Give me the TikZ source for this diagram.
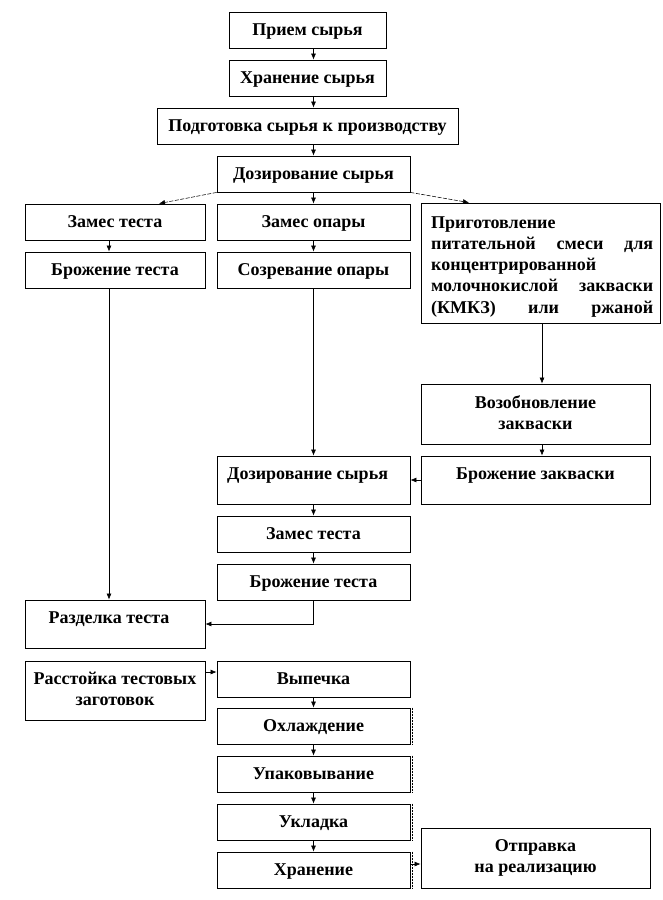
\documentclass[tikz,border=0pt]{standalone}
\usepackage{fontspec}
\setmainfont{Liberation Serif}
\usetikzlibrary{arrows.meta}
\newcommand\bx[6]{\node[box, text height=15pt, minimum width={#4-#2}, minimum height={#5-#3}] (#1) at ({(#2+#4)/2},{(#3+#5)/2}) {#6};}
\newcommand\bxm[6]{\node[box, minimum width={#4-#2}, minimum height={#5-#3}] (#1) at ({(#2+#4)/2},{(#3+#5)/2}) {#6};}
\begin{document}
\begin{tikzpicture}[x=1pt,y=-1pt,
  lbl/.style={font=\fontsize{18}{21.3}\selectfont\bfseries},
  box/.style={draw, line width=0.85pt, inner sep=0pt, lbl, align=center, text depth=3.5pt},
  txt/.style={inner sep=0pt, lbl},
  arr/.style={line width=0.6pt, -{Latex[length=6pt,width=5pt]}},
  diag/.style={arr, line width=0.55pt, dash pattern=on 4pt off 1.5pt},
  edge/.style={line width=0.5pt, densely dotted}
]
\useasboundingbox (0,0) rectangle (663,900);
% boxes
\bx{p1}{229}{12}{386}{48}{Прием сырья}
\bx{p2}{229}{60}{386}{96}{Хранение сырья}
\bx{p3}{157}{108}{458}{144}{Подготовка сырья к производству}
\bx{d1}{217}{156}{410}{192}{Дозирование сырья}
\bx{zt}{25}{204}{205}{240}{Замес теста}
\bx{zo}{217}{204}{410}{240}{Замес опары}
\bxm{pr}{421}{203}{660}{323}{}
\bx{bt}{25}{252}{205}{288}{Брожение теста}
\bx{so}{217}{252}{410}{288}{Созревание опары}
\bxm{vz}{421}{384}{650}{444}{Возобновление\\закваски}
\bxm{bz}{421}{456}{650}{504}{}
\bxm{d2}{217}{456}{410}{504}{}
\bx{zt2}{217}{516}{410}{552}{Замес теста}
\bx{bt2}{217}{564}{410}{600}{Брожение теста}
\bxm{rz}{25}{600}{205}{648}{}
\bxm{rs}{25}{661}{205}{720}{Расстойка тестовых\\заготовок}
\bx{vy}{217}{661}{410}{697}{Выпечка}
\bx{oh}{217}{708}{410}{744}{Охлаждение}
\bx{up}{217}{756}{410}{792}{Упаковывание}
\bx{uk}{217}{804}{410}{840}{Укладка}
\bx{hr}{217}{852}{410}{888}{Хранение}
\bxm{ot}{421}{828}{650}{888}{Отправка\\на реализацию}
% texts placed near the top of their boxes
\node[txt, anchor=base west] (prt) at (431,228) {\vtop{\hbox{Приготовление}\hbox to 222pt{питательной\hfill смеси\hfill для}\hbox{концентрированной}\hbox to 222pt{молочнокислой\hfill закваски}\hbox to 222pt{(КМКЗ)\hfill или\hfill ржаной}}};
\node[txt, anchor=base] (bzt) at (535.5,479) {Брожение закваски};
\node[txt, anchor=base west] (d2t) at (227,479) {Дозирование сырья};
\node[txt, anchor=base] (rzt) at (109,623) {Разделка теста};
% dotted right edges
\foreach \n in {oh,up,uk,hr}{\draw[edge] ([xshift=1.5pt]\n.north east) -- ([xshift=1.5pt]\n.south east);}
% column coordinates
\coordinate (cM) at (313.5,0);
\coordinate (cL) at (109,0);
\coordinate (cR) at (542,0);
\coordinate (tL) at (159,0);
\coordinate (tR) at (469,0);
\coordinate (yA) at (0,672);
\coordinate (yB) at (0,864);
% connectors
\draw[arr] (p1.south -| cM) -- (p2.north -| cM);
\draw[arr] (p2.south -| cM) -- (p3.north -| cM);
\draw[arr] (p3.south -| cM) -- (d1.north -| cM);
\draw[arr] (d1.south -| cM) -- (zo.north -| cM);
\draw[diag] (d1.south west) -- (zt.north -| tL);
\draw[diag] (d1.south east) -- (pr.north -| tR);
\draw[arr] (zt.south -| cL) -- (bt.north -| cL);
\draw[arr] (zo.south -| cM) -- (so.north -| cM);
\draw[arr] (pr.south -| cR) -- (vz.north -| cR);
\draw[arr] (vz.south -| cR) -- (bz.north -| cR);
\draw[arr] (bz.west) -- (d2.east);
\draw[arr] (so.south -| cM) -- (d2.north -| cM);
\draw[arr] (bt.south -| cL) -- (rz.north -| cL);
\draw[arr] (d2.south -| cM) -- (zt2.north -| cM);
\draw[arr] (zt2.south -| cM) -- (bt2.north -| cM);
\draw[arr] (bt2.south -| cM) |- (rz.east);
\draw[arr] (rs.east |- yA) -- (vy.west |- yA);
\draw[arr] (vy.south -| cM) -- (oh.north -| cM);
\draw[arr] (oh.south -| cM) -- (up.north -| cM);
\draw[arr] (up.south -| cM) -- (uk.north -| cM);
\draw[arr] (uk.south -| cM) -- (hr.north -| cM);
\draw[arr] (hr.east |- yB) -- (ot.west |- yB);
\end{tikzpicture}
\end{document}
